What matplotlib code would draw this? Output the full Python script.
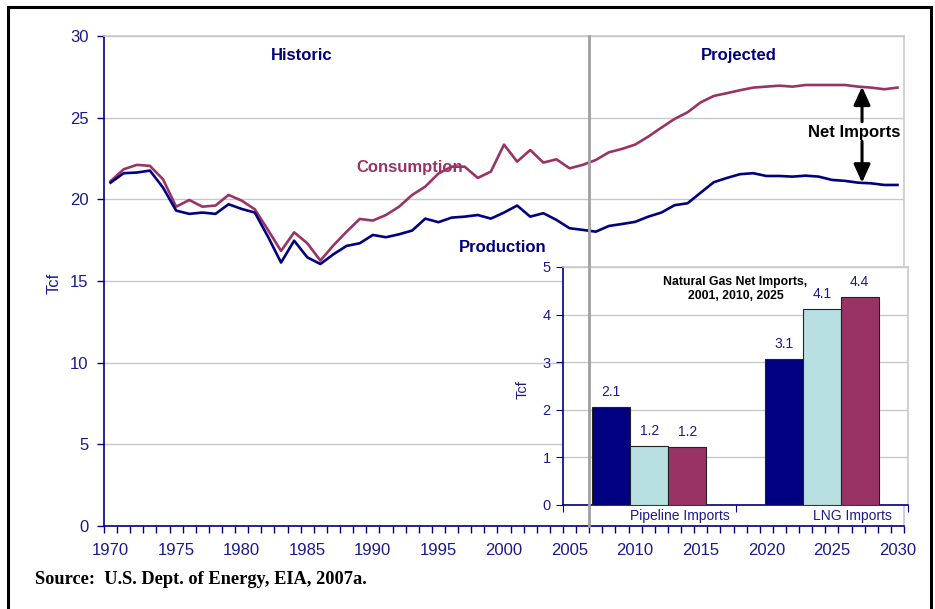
import matplotlib
matplotlib.use("Agg")
import matplotlib.pyplot as plt
import numpy as np
from matplotlib.lines import Line2D
from matplotlib.patches import Rectangle
from matplotlib.transforms import blended_transform_factory

plt.rcParams["font.family"] = ["Liberation Sans", "DejaVu Sans"]

# U.S. natural gas, Tcf per year
years = list(range(1970, 2031))
production = [
    21.02, 21.60, 21.64, 21.76, 20.72, 19.31, 19.11, 19.19, 19.11, 19.70,
    19.41, 19.19, 17.72, 16.13, 17.47, 16.45, 16.04, 16.64, 17.15, 17.31,
    17.82, 17.68, 17.86, 18.09, 18.82, 18.60, 18.88, 18.94, 19.04, 18.82,
    19.19, 19.62, 18.94, 19.15, 18.74, 18.23, 18.13, 18.02, 18.37, 18.49,
    18.62, 18.94, 19.19, 19.64, 19.76, 20.41, 21.05, 21.31, 21.54, 21.60,
    21.43, 21.43, 21.39, 21.45, 21.39, 21.19, 21.13, 21.02, 20.98, 20.88,
    20.88,
]
consumption = [
    21.11, 21.84, 22.11, 22.05, 21.23, 19.55, 19.96, 19.55, 19.62, 20.27,
    19.92, 19.39, 18.13, 16.84, 17.98, 17.31, 16.25, 17.19, 18.02, 18.80,
    18.70, 19.04, 19.55, 20.27, 20.78, 21.58, 22.00, 22.00, 21.31, 21.70,
    23.35, 22.31, 23.02, 22.25, 22.45, 21.90, 22.11, 22.41, 22.88, 23.09,
    23.35, 23.84, 24.39, 24.92, 25.33, 25.94, 26.33, 26.50, 26.68, 26.84,
    26.90, 26.96, 26.90, 27.00, 27.00, 27.00, 27.00, 26.90, 26.84, 26.74,
    26.84,
]
last_historic_year = 2006

# inset: net imports by source
import_sources = ["Pipeline Imports", "LNG Imports"]
import_years = ["2001", "2010", "2025"]
imports_2001 = [2.06, 3.06]
imports_2010 = [1.24, 4.12]
imports_2025 = [1.22, 4.36]

NAVY = "#000080"
MAROON = "#993366"
LIGHT = "#B8DFE1"
TXT = "#1A1A8C"
GRID = "#C8C8C8"

fig = plt.figure(figsize=(9.35, 6.09), dpi=100)
ax = fig.add_axes([104 / 935, 83 / 609, 800 / 935, 490 / 609])

ax.plot(years, consumption, color=MAROON, lw=1.9, zorder=3)
ax.plot(years, production, color=NAVY, lw=1.9, zorder=3)

ax.set_xlim(years[0] - 0.5, years[-1] + 0.5)
ax.set_ylim(0, 30)
ax.set_yticks(np.arange(0, 31, 5))
ax.yaxis.grid(True, color=GRID, lw=1.0)
ax.set_axisbelow(True)

# category boundaries carry the tick marks, labels sit on the years
ax.set_xticks(np.arange(years[0] - 0.5, years[-1] + 1, 1.0))
ax.set_xticklabels([])
ax.set_xticks(years[::5], minor=True)
ax.set_xticklabels([str(y) for y in years[::5]], minor=True)
ax.tick_params(axis="x", which="major", length=5, width=1, color=NAVY, direction="out")
ax.tick_params(axis="x", which="minor", length=0, pad=12, labelsize=12, labelcolor=TXT)
ax.tick_params(axis="y", length=5, width=1, color=NAVY, pad=6, labelsize=12, labelcolor=TXT)

for side in ("left", "bottom"):
    ax.spines[side].set_color(NAVY)
    ax.spines[side].set_linewidth(1.2)
for side in ("top", "right"):
    ax.spines[side].set_color(GRID)
    ax.spines[side].set_linewidth(1.2)

ax.set_ylabel("Tcf", fontsize=12, color=TXT)
ax.yaxis.set_label_coords(-0.0525, 0.496)

ax.text(1984.6, 28.78, "Historic", ha="center", va="center", fontsize=12, fontweight="bold", color=NAVY)
ax.text(2017.9, 28.78, "Projected", ha="center", va="center", fontsize=12, fontweight="bold", color=NAVY)
ax.text(1992.8, 21.92, "Consumption", ha="center", va="center", fontsize=12, fontweight="bold", color=MAROON, zorder=4)
ax.text(1999.9, 17.08, "Production", ha="center", va="center", fontsize=12, fontweight="bold", color=NAVY)
ax.text(2026.7, 24.07, "Net Imports", ha="center", va="center", fontsize=12, fontweight="bold", color="black")

# gap between the two curves
i = years.index(2027)
arrow_x = years[i] + 0.3
arrow_kw = dict(arrowstyle="-|>,head_length=1.1,head_width=0.5", lw=2.2, color="black",
                shrinkA=0, shrinkB=0)
ax.annotate("", xy=(arrow_x, consumption[i]), xytext=(arrow_x, 24.75), arrowprops=arrow_kw)
ax.annotate("", xy=(arrow_x, production[i]), xytext=(arrow_x, 23.55), arrowprops=arrow_kw)

# inset bar chart
ins = fig.add_axes([563 / 935, 104 / 609, 345 / 935, 238 / 609])
ins.set_facecolor("white")
xpos = np.arange(len(import_sources))
bw = 0.22
for off, vals, col in zip((-bw, 0, bw), (imports_2001, imports_2010, imports_2025), (NAVY, LIGHT, MAROON)):
    bars = ins.bar(xpos + off, vals, width=bw, color=col, edgecolor="#222222", lw=0.8, zorder=3)
    for b, v in zip(bars, vals):
        ins.text(b.get_x() + b.get_width() / 2, v + 0.17, f"{v:.1f}", ha="center", va="bottom",
                 fontsize=10, color=TXT)

ins.set_xlim(-0.5, 1.5)
ins.set_ylim(0, 5)
ins.set_yticks(range(6))
ins.yaxis.grid(True, color=GRID, lw=1.0)
ins.set_axisbelow(True)
ins.set_xticks([-0.5, 0.5, 1.5])
ins.set_xticklabels([])
ins.set_xticks(xpos + 0.18, minor=True)
ins.set_xticklabels(import_sources, minor=True)
ins.tick_params(axis="x", which="major", length=5, color=NAVY)
ins.tick_params(axis="x", which="minor", length=0, pad=3, labelsize=10, labelcolor=TXT)
ins.tick_params(axis="y", length=5, color=NAVY, pad=4, labelsize=10.5, labelcolor=TXT)
for side in ("left", "bottom"):
    ins.spines[side].set_color(NAVY)
    ins.spines[side].set_linewidth(1.2)
for side in ("top", "right"):
    ins.spines[side].set_color(GRID)
    ins.spines[side].set_linewidth(1.2)
ins.set_ylabel("Tcf", fontsize=10.5, color=TXT)
ins.yaxis.set_label_coords(-0.096, 0.483)
ins.text(0.50, 4.54, "Natural Gas Net Imports,\n2001, 2010, 2025", ha="center", va="center",
         fontsize=8.8, fontweight="bold", color="black", linespacing=1.25)

# historic / projected divider, drawn over the inset as well
divider = Line2D([last_historic_year + 0.5] * 2, [0, 1], color="#A0A0A0", lw=2.0, zorder=5,
                 transform=blended_transform_factory(ax.transData, ax.transAxes))
fig.add_artist(divider)

fig.text(35 / 935, 1 - 580 / 609, "Source:  U.S. Dept. of Energy, EIA, 2007a.", ha="left", va="center",
         fontsize=13.2, fontweight="bold", family=["Liberation Serif", "DejaVu Serif"])

fig.add_artist(Rectangle((7.5 / 935, -0.05), (931 - 7.5) / 935, 1 - 6.5 / 609 + 0.05,
                         transform=fig.transFigure, fill=False, lw=2.2, ec="black", zorder=10))

fig.savefig("out.png", dpi=100, facecolor="white")
